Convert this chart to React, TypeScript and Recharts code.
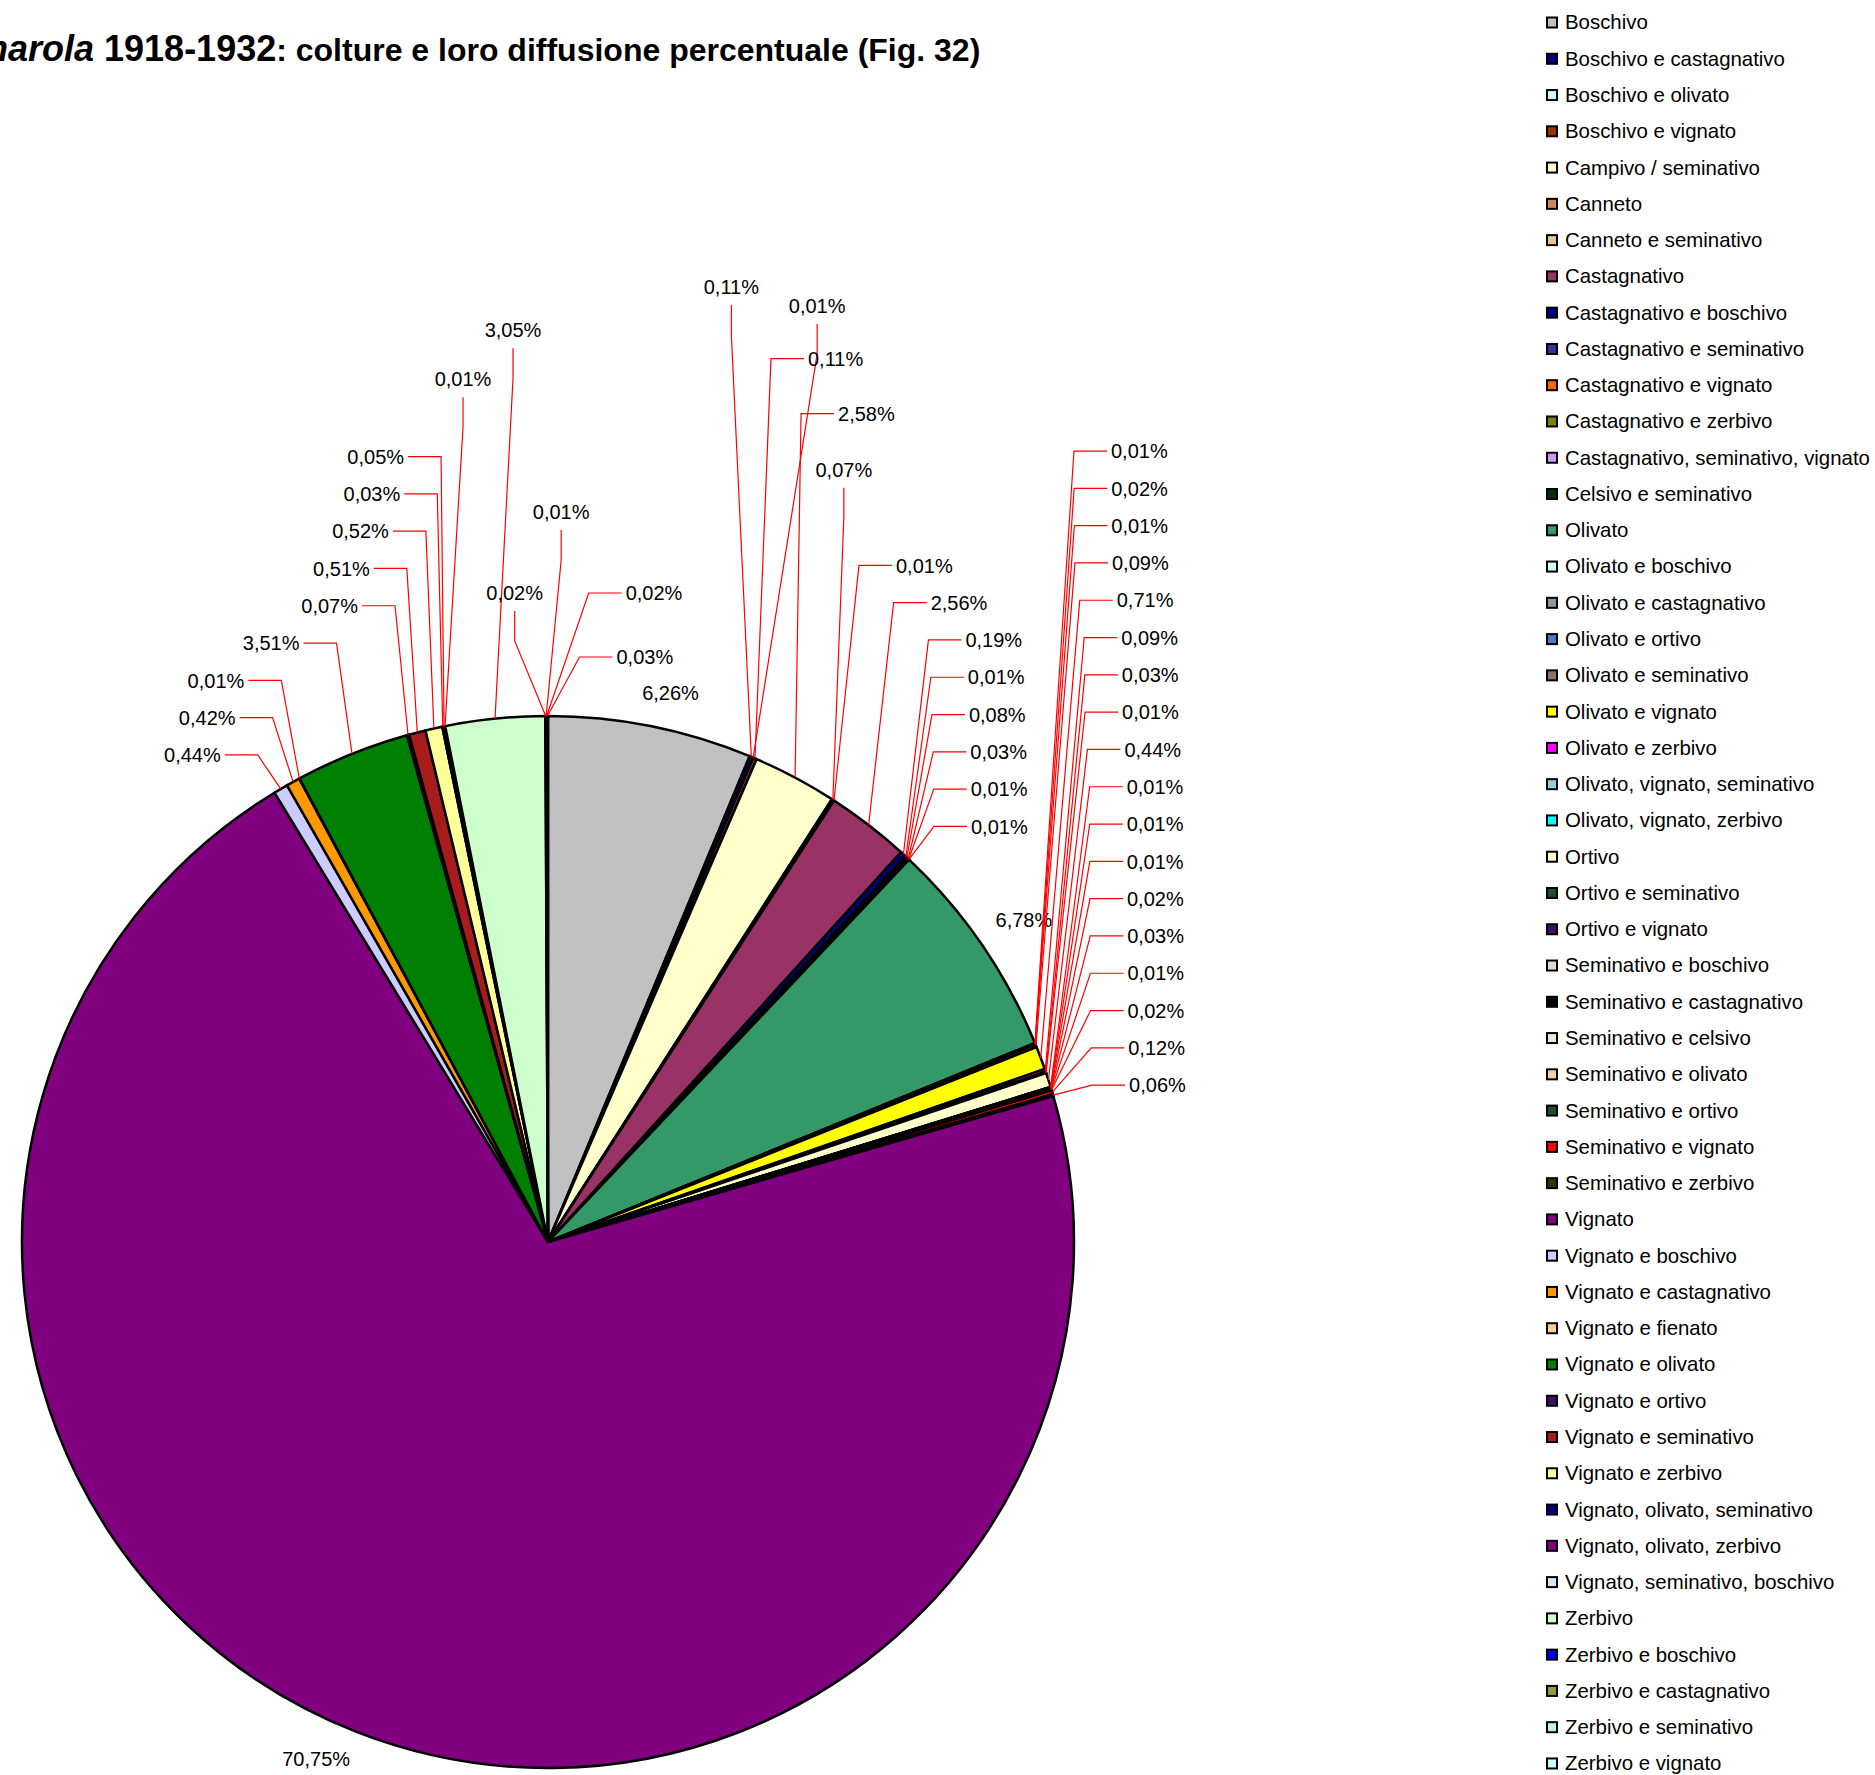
import React from 'react';
import { PieChart, Pie, Cell, Legend } from 'recharts';

// Manarola 1918-1932: colture e loro diffusione percentuale (Fig. 32)

const categories = [
  'Boschivo',
  'Boschivo e castagnativo',
  'Boschivo e olivato',
  'Boschivo e vignato',
  'Campivo / seminativo',
  'Canneto',
  'Canneto e seminativo',
  'Castagnativo',
  'Castagnativo e boschivo',
  'Castagnativo e seminativo',
  'Castagnativo e vignato',
  'Castagnativo e zerbivo',
  'Castagnativo, seminativo, vignato',
  'Celsivo e seminativo',
  'Olivato',
  'Olivato e boschivo',
  'Olivato e castagnativo',
  'Olivato e ortivo',
  'Olivato e seminativo',
  'Olivato e vignato',
  'Olivato e zerbivo',
  'Olivato, vignato, seminativo',
  'Olivato, vignato, zerbivo',
  'Ortivo',
  'Ortivo e seminativo',
  'Ortivo e vignato',
  'Seminativo e boschivo',
  'Seminativo e castagnativo',
  'Seminativo e celsivo',
  'Seminativo e olivato',
  'Seminativo e ortivo',
  'Seminativo e vignato',
  'Seminativo e zerbivo',
  'Vignato',
  'Vignato e boschivo',
  'Vignato e castagnativo',
  'Vignato e fienato',
  'Vignato e olivato',
  'Vignato e ortivo',
  'Vignato e seminativo',
  'Vignato e zerbivo',
  'Vignato, olivato, seminativo',
  'Vignato, olivato, zerbivo',
  'Vignato, seminativo, boschivo',
  'Zerbivo',
  'Zerbivo e boschivo',
  'Zerbivo e castagnativo',
  'Zerbivo e seminativo',
  'Zerbivo e vignato',
];

// percent of total area
const shares = [
  6.26, 0.11, 0.01, 0.11, 2.58, 0.07, 0.01, 2.56, 0.19, 0.01,
  0.08, 0.03, 0.01, 0.01, 6.78, 0.01, 0.02, 0.01, 0.09, 0.71,
  0.09, 0.03, 0.01, 0.44, 0.01, 0.01, 0.01, 0.02, 0.03, 0.01,
  0.02, 0.12, 0.06, 70.75, 0.44, 0.42, 0.01, 3.51, 0.07, 0.51,
  0.52, 0.03, 0.05, 0.01, 3.05, 0.02, 0.01, 0.02, 0.03,
];

const colors = [
  '#C0C0C0', '#000080', '#CCFFFF', '#993300', '#FFFFCC', '#CC8855', '#E6C898', '#993366', '#000080', '#333399',
  '#FF6600', '#808000', '#CC99FF', '#003300', '#339966', '#CCFFFF', '#969696', '#4A78C8', '#8A7565', '#FFFF00',
  '#FF00FF', '#99CCE0', '#00FFFF', '#FFFFCC', '#1E4D2B', '#3D0F66', '#E0DAD0', '#000000', '#EEE6D6', '#F0D2AA',
  '#1E4D2B', '#FF0000', '#333300', '#800080', '#CCCCFF', '#FF9900', '#FFCC99', '#008000', '#3D0F66', '#A81C1C',
  '#FFFF99', '#000080', '#800080', '#D0E6FA', '#CCFFCC', '#0000FF', '#999933', '#BFF5DA', '#CCFFFF',
];

const W = 1875;
const H = 1775;
const CX = 548;
const CY = 1242;
const R = 526;
const RAD = Math.PI / 180;
const FONT = "'Liberation Sans', Arial, Helvetica, sans-serif";

const pieData = categories.map((name, i) => ({ name, value: shares[i] }));
const total = shares.reduce((a, b) => a + b, 0);

const pct = (v: number) => `${v.toFixed(2).replace('.', ',')}%`;

// point on the rim at the middle of slice i (clockwise from 12 o'clock)
function rimPoint(cx: number, cy: number, r: number, i: number) {
  let before = 0;
  for (let j = 0; j < i; j++) before += shares[j];
  const theta = ((before + shares[i] / 2) / total) * 360 * RAD;
  return [cx + r * Math.sin(theta), cy - r * Math.cos(theta)];
}

// how the data labels are laid out: stacked groups with red leader lines
type LabelGroup = {
  from: number;
  to: number;
  style: 'big' | 'right' | 'left' | 'top';
  base?: number;
  dy?: number;
  gap?: number;
  dx?: number;
  dxStep?: number;
  off?: number;
  rot?: number;
};

const labelGroups: LabelGroup[] = [
  { from: 0, to: 0, style: 'big', off: 37, rot: 1.3 },
  { from: 1, to: 2, style: 'top', base: 1, dy: -470, gap: -19, dx: -20, dxStep: 84 },
  { from: 3, to: 4, style: 'right', base: 4, dy: -364, gap: 55, dx: 6, dxStep: 10 },
  { from: 5, to: 5, style: 'top', base: 5, dy: -330, gap: 0, dx: 11 },
  { from: 6, to: 13, style: 'right', base: 13, dy: -33, gap: 37.3, dx: 25 },
  { from: 14, to: 14, style: 'big', off: 49, rot: 0.3 },
  { from: 15, to: 32, style: 'right', base: 32, dy: -10, gap: 37.3, dx: 39 },
  { from: 33, to: 33, style: 'big', off: 40, rot: 2.9 },
  { from: 34, to: 42, style: 'left', base: 34, dy: -34, gap: 37.3, dx: -23, dxStep: 2.5 },
  { from: 43, to: 44, style: 'top', base: 43, dy: -347, gap: 49, dx: 18 },
  { from: 45, to: 46, style: 'top', base: 45, dy: -123, gap: 81, dx: -31, dxStep: 46 },
  { from: 47, to: 48, style: 'right', base: 48, dy: -59, gap: 64, dx: 32, dxStep: 10 },
];

const renderLabel = (props: any) => {
  const { cx, cy, midAngle, outerRadius, index } = props;
  const text = pct(shares[index]);
  const ax = cx + outerRadius * Math.cos(-midAngle * RAD);
  const ay = cy + outerRadius * Math.sin(-midAngle * RAD);
  const g = labelGroups.find((c) => index >= c.from && index <= c.to);

  if (!g || g.style === 'big') {
    const rr = outerRadius + (g?.off ?? 38);
    const a = midAngle - (g?.rot ?? 0);
    const x = cx + rr * Math.cos(-a * RAD);
    const y = cy + rr * Math.sin(-a * RAD);
    return (
      <text key={`l-${index}`} x={x} y={y} dy="0.36em" textAnchor="middle" fontSize={20} fontFamily={FONT} fill="#000">
        {text}
      </text>
    );
  }

  const k = Math.abs(index - (g.base as number));
  const [, by] = rimPoint(cx, cy, outerRadius, g.base as number);
  const y = by + (g.dy || 0) - k * (g.gap || 0);
  const ex = ax + (g.dx || 0) + k * (g.dxStep || 0);

  if (g.style === 'top') {
    return (
      <g key={`l-${index}`}>
        <polyline
          points={`${ex},${y + 18} ${ex},${y + 48} ${ax},${ay}`}
          fill="none"
          stroke="#FF0000"
          strokeWidth={1.2}
        />
        <text x={ex} y={y} dy="0.36em" textAnchor="middle" fontSize={20} fontFamily={FONT} fill="#000">
          {text}
        </text>
      </g>
    );
  }

  const dir = g.style === 'right' ? 1 : -1;
  return (
    <g key={`l-${index}`}>
      <polyline
        points={`${ax},${ay} ${ex},${y} ${ex + dir * 33},${y}`}
        fill="none"
        stroke="#FF0000"
        strokeWidth={1.2}
      />
      <text
        x={ex + dir * 37}
        y={y}
        dy="0.36em"
        textAnchor={dir > 0 ? 'start' : 'end'}
        fontSize={20}
        fontFamily={FONT}
        fill="#000"
      >
        {text}
      </text>
    </g>
  );
};

const renderLegend = () => (
  <svg width={335} height={H}>
    {categories.map((name, i) => {
      const y = 22.5 + i * 36.27;
      return (
        <g key={name}>
          <rect x={7} y={y - 5} width={10} height={10} fill={colors[i]} stroke="#000" strokeWidth={2} />
          <text x={25} y={y} dy="0.34em" fontSize={20.4} fontFamily={FONT} fill="#000">
            {name}
          </text>
        </g>
      );
    })}
  </svg>
);

export default function App() {
  return (
    <div style={{ position: 'absolute', left: 0, top: 0, width: W, height: H, background: '#fff' }}>
      <PieChart width={W} height={H} margin={{ top: 0, right: 0, bottom: 0, left: 0 }}>
        <Pie
          data={pieData}
          dataKey="value"
          nameKey="name"
          cx={CX}
          cy={CY}
          outerRadius={R}
          startAngle={90}
          endAngle={-270}
          stroke="#000"
          strokeWidth={2.5}
          label={renderLabel}
          labelLine={false}
          isAnimationActive={false}
        >
          {pieData.map((entry, i) => (
            <Cell key={`cell-${i}`} fill={colors[i]} />
          ))}
        </Pie>
        <Legend
          layout="vertical"
          align="right"
          verticalAlign="top"
          content={renderLegend}
          wrapperStyle={{ left: 1540, top: 0, width: 335, height: H }}
        />
      </PieChart>
      <svg width={W} height={100} style={{ position: 'absolute', left: 0, top: 0 }}>
        <text x={-64} y={61} fontFamily={FONT} fontWeight="bold" fill="#000">
          <tspan fontStyle="italic" fontSize={36}>Manarola</tspan>
          <tspan fontSize={36}> 1918-1932</tspan>
          <tspan fontSize={32}>: colture e loro diffusione percentuale (Fig. 32)</tspan>
        </text>
      </svg>
    </div>
  );
}
